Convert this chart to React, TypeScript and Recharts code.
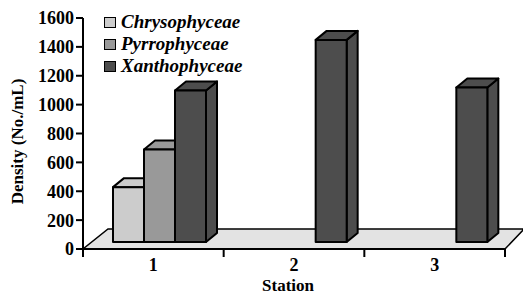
import { BarChart, Bar, XAxis, YAxis, Legend, ReferenceArea } from "recharts";

const stations = ["1", "2", "3"];
const chrysophyceae = [380, 0, 0];
const pyrrophyceae = [640, 0, 0];
const xanthophyceae = [1050, 1400, 1070];
const yTicks = [0, 200, 400, 600, 800, 1000, 1200, 1400, 1600];

const SERIES = [
  { key: "chrys", name: "Chrysophyceae", color: "#cccccc" },
  { key: "pyrr", name: "Pyrrophyceae", color: "#999999" },
  { key: "xantho", name: "Xanthophyceae", color: "#4d4d4d" },
];

const FONT = '"Liberation Serif", "Times New Roman", serif';

const data = stations.map((s, i) => ({
  station: s,
  chrys: chrysophyceae[i],
  pyrr: pyrrophyceae[i],
  xantho: xanthophyceae[i],
}));

// front face + top + side, lifted a bit so bars stand on the floor
function Bar3D(props: any) {
  const { x, y, width, height, fill } = props;
  if (!height || height <= 0) return null;
  const lift = 7, dx = 11, dy = 9, shift = 6;
  const l = x + shift;
  const r = l + width;
  const t = y - lift;
  const b = y + height - lift;
  const st = { stroke: "#000", strokeWidth: 2, strokeLinejoin: "round" as const, fill };
  return (
    <g>
      <polygon points={`${r},${t} ${r + dx},${t - dy} ${r + dx},${b - dy} ${r},${b}`} {...st} />
      <polygon points={`${l},${t} ${l + dx},${t - dy} ${r + dx},${t - dy} ${r},${t}`} {...st} />
      <rect x={l} y={t} width={width} height={b - t} {...st} />
    </g>
  );
}

function Floor(props: any) {
  const { x, y, width, height } = props;
  const b = y + height;
  return (
    <polygon
      points={`${x},${b} ${x + width},${b} ${x + width + 19},${b - 20} ${x + 25},${b - 20}`}
      fill="#e3e3e3"
      stroke="#000"
      strokeWidth={1.5}
    />
  );
}

function StationTick(props: any) {
  const { x, y, payload, index } = props;
  const half = payload && payload.offset ? payload.offset : 70.3;
  return (
    <g>
      {index === 0 && <line x1={x - half} y1={y} x2={x - half} y2={y + 8} stroke="#000" strokeWidth={2} />}
      <line x1={x + half} y1={y} x2={x + half} y2={y + 8} stroke="#000" strokeWidth={2} />
      <text x={x} y={y + 22} textAnchor="middle" fontFamily={FONT} fontSize={18} fontWeight="bold" fill="#000">
        {payload.value}
      </text>
    </g>
  );
}

function LegendBox({ payload }: any) {
  const items = payload && payload.length ? payload : SERIES.map((s) => ({ value: s.name, color: s.color }));
  return (
    <div style={{ fontFamily: FONT }}>
      {items.map((it: any) => (
        <div key={it.value} style={{ display: "flex", alignItems: "center", height: 22 }}>
          <span
            style={{
              display: "inline-block",
              width: 10,
              height: 9,
              background: it.color,
              border: "1.5px solid #000",
              marginRight: 5,
            }}
          />
          <span style={{ fontSize: 19, fontStyle: "italic", fontWeight: "bold", color: "#000" }}>{it.value}</span>
        </div>
      ))}
    </div>
  );
}

export default function App() {
  return (
    <div style={{ position: "absolute", left: 0, top: 0, width: 523, height: 295, background: "#fff" }}>
      <BarChart
        width={523}
        height={295}
        data={data}
        margin={{ top: 18, right: 18, bottom: 0, left: 0 }}
        barSize={31}
        barGap={0}
      >
        <ReferenceArea y1={0} y2={100} shape={Floor} ifOverflow="visible" />
        <XAxis
          dataKey="station"
          height={46}
          axisLine={{ stroke: "#000", strokeWidth: 2 }}
          tickLine={false}
          tickSize={0}
          tickMargin={0}
          interval={0}
          tick={StationTick}
          label={(p: any) => {
            const vb = p.viewBox || { x: 83, y: 249, width: 422 };
            return (
              <text x={vb.x + vb.width / 2 - 6} y={vb.y + 42} textAnchor="middle" fontFamily={FONT} fontSize={17} fontWeight="bold" fill="#000">
                Station
              </text>
            );
          }}
        />
        <YAxis
          width={83}
          domain={[0, 1600]}
          ticks={yTicks}
          interval={0}
          axisLine={{ stroke: "#000", strokeWidth: 2 }}
          tickLine={{ stroke: "#000", strokeWidth: 2 }}
          tickSize={7}
          tickMargin={2}
          tick={{ fontFamily: FONT, fontSize: 18, fontWeight: "bold", fill: "#000" }}
          label={(p: any) => {
            const vb = p.viewBox || { x: 0, y: 18, height: 231 };
            const cx = vb.x + 17;
            const cy = vb.y + vb.height / 2 + 8;
            return (
              <text x={cx} y={cy} transform={`rotate(-90, ${cx}, ${cy})`} textAnchor="middle" dominantBaseline="central" fontFamily={FONT} fontSize={17} fontWeight="bold" fill="#000">
                Density (No./mL)
              </text>
            );
          }}
        />
        <Legend
          layout="horizontal"
          verticalAlign="middle"
          content={LegendBox}
          wrapperStyle={{ position: "absolute", top: 11, left: 104, width: "auto" }}
        />
        {SERIES.map((s) => (
          <Bar key={s.key} dataKey={s.key} name={s.name} fill={s.color} shape={Bar3D} isAnimationActive={false} />
        ))}
      </BarChart>
    </div>
  );
}
